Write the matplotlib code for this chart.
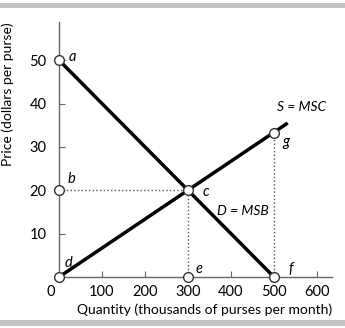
import numpy as np
import matplotlib.pyplot as plt
from matplotlib.patches import Rectangle

# demand and supply
demand_q = [0, 500]
demand_p = [50, 0]
supply_q = [0, 532]
supply_p = [0, 35.5]

point_names = ['a', 'b', 'c', 'd', 'e', 'f', 'g']
point_q = [0, 0, 300, 0, 300, 500, 500]
point_p = [50, 20, 20, 0, 0, 0, 33.3]

xticks = [100, 200, 300, 400, 500, 600]
yticks = [10, 20, 30, 40, 50]

plt.rcParams['font.family'] = ['Lato', 'DejaVu Sans']

fig = plt.figure(figsize=(3.45, 3.28), dpi=100)
ax = fig.add_axes([59/345, 51/328, 273/345, 255/328])

fig.add_artist(Rectangle((0, 1 - 8/328), 1, 5/328, transform=fig.transFigure,
                         color='#c4c4c4', lw=0))
fig.add_artist(Rectangle((0, 2/328), 1, 6/328, transform=fig.transFigure,
                         color='#c4c4c4', lw=0))

# dotted guides
ax.plot([0, 300], [20, 20], ls=':', color='#555555', lw=1)
ax.plot([300, 300], [0, 20], ls=':', color='#555555', lw=1)
ax.plot([500, 500], [0, 33.3], ls=':', color='#555555', lw=1)

ax.plot(demand_q, demand_p, color='black', lw=2.5, solid_capstyle='butt')
ax.plot(supply_q, supply_p, color='black', lw=2.5, solid_capstyle='butt')

ax.plot(point_q, point_p, 'o', ms=7, mfc='white', mec='#333333', mew=1,
        clip_on=False, zorder=5)

# label offsets in points
offsets = {'a': (10, 2), 'b': (9, 8), 'c': (13, -1), 'd': (7, 10),
           'e': (8, 6), 'f': (12, 6), 'g': (9, -7)}
for n, q, p in zip(point_names, point_q, point_p):
    dx, dy = offsets[n]
    ax.annotate(n, (q, p), xytext=(dx, dy), textcoords='offset points',
                fontsize=10.5, style='italic', va='center', ha='center')

ax.text(368, 15.3, 'D = MSB', fontsize=10, style='italic', ha='left', va='center')
ax.text(506, 39.2, 'S = MSC', fontsize=10, style='italic', ha='left', va='center')

ax.set_xlim(0, 635)
ax.set_ylim(0, 58.8)
ax.set_xticks(xticks)
ax.set_yticks(yticks)
ax.tick_params(direction='in', length=4, color='#666666', labelsize=10.5)
ax.tick_params(axis='x', pad=6)
ax.tick_params(axis='y', pad=9)
ax.annotate('0', (0, 0), xytext=(-6, -6), textcoords='offset points',
            fontsize=10.5, ha='center', va='top')

for s in ['top', 'right']:
    ax.spines[s].set_visible(False)
for s in ['left', 'bottom']:
    ax.spines[s].set_color('#666666')
    ax.spines[s].set_linewidth(1)

ax.set_ylabel('Price (dollars per purse)', fontsize=10, labelpad=11, loc='top')
ax.set_xlabel('Quantity (thousands of purses per month)', fontsize=10,
              ha='right', x=1.0, labelpad=3)

fig.savefig('out.png', dpi=100)
